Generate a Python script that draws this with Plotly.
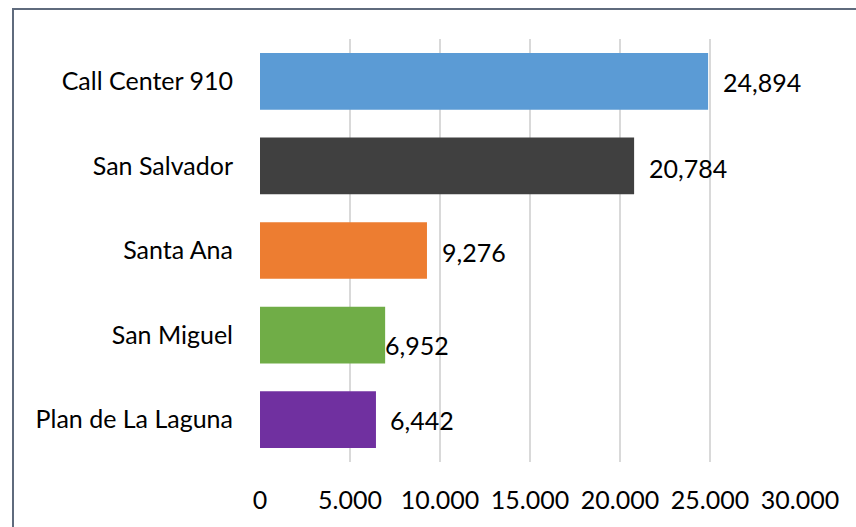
import plotly.graph_objects as go

categories = ["Call Center 910", "San Salvador", "Santa Ana", "San Miguel", "Plan de La Laguna"]
values = [24894, 20784, 9276, 6952, 6442]
colors = ["#5B9BD5", "#404040", "#ED7D31", "#70AD47", "#7030A0"]
tick_vals = [0, 5000, 10000, 15000, 20000, 25000, 30000]

# label offsets (pixels) mimicking the manually placed labels
label_dx = [13, 13, 13, -2, 12]
label_dy = [-1, -2, -1, -10, 0]

W, H = 856, 527
ml, mr, mt, mb = 260, 56, 39, 65
FONT = "Lato"
FS = 25

fig = go.Figure()
fig.add_trace(go.Bar(
    y=categories, x=values, orientation="h",
    marker=dict(color=colors, line=dict(width=0)),
    hoverinfo="skip",
))

for c, v, dx, dy in zip(categories, values, label_dx, label_dy):
    fig.add_annotation(x=v, y=c, text=f"{v:,}", showarrow=False,
                       xanchor="left", yanchor="middle", xshift=dx, yshift=dy,
                       font=dict(family=FONT, size=FS, color="#000000"))

pw = W - ml - mr
ph = H - mt - mb
fig.add_shape(type="rect", xref="paper", yref="paper",
              x0=(13 - ml) / pw, x1=(W + 5 - ml) / pw,
              y0=-(H + 5 - mt - ph) / ph, y1=1 + (mt - 9) / ph,
              line=dict(color="#5F6B7D", width=2), fillcolor="rgba(0,0,0,0)", layer="above")

fig.update_layout(
    width=W, height=H,
    margin=dict(l=ml, r=mr, t=mt, b=mb),
    paper_bgcolor="white", plot_bgcolor="white",
    separators=",.",
    bargap=0.33,
    showlegend=False,
    font=dict(family=FONT, size=FS, color="#000000"),
    xaxis=dict(range=[0, 30000], tickvals=tick_vals, tickformat=",d",
               showgrid=True, gridcolor="#D9D9D9", gridwidth=1.5,
               zeroline=False, showline=False, ticks="",
               ticklabelstandoff=21, fixedrange=True,
               tickfont=dict(family=FONT, size=FS, color="#000000")),
    yaxis=dict(categoryorder="array", categoryarray=categories[::-1],
               showgrid=False, zeroline=False, showline=False, ticks="",
               ticklabelstandoff=26, fixedrange=True,
               tickfont=dict(family=FONT, size=FS, color="#000000")),
)

fig.write_html("out.html", config={"displayModeBar": False},
               post_script="document.body.style.margin='0';document.body.style.overflow='hidden';")
